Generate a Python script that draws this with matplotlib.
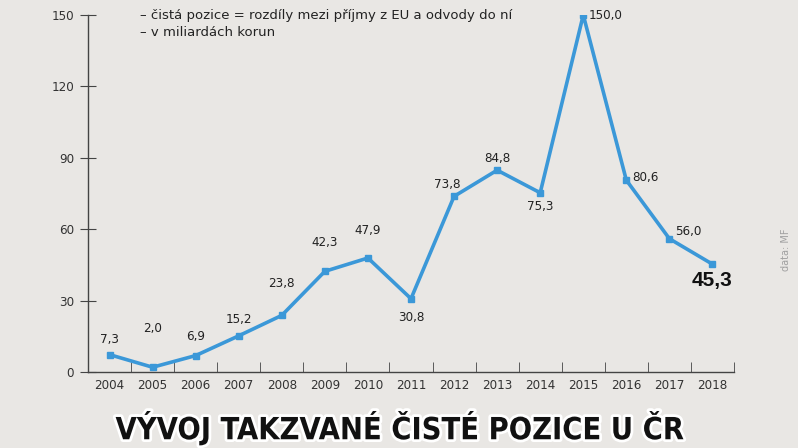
import matplotlib.pyplot as plt
import matplotlib.patheffects as pe
import numpy as np

years = ['2004', '2005', '2006', '2007', '2008', '2009', '2010', '2011',
         '2012', '2013', '2014', '2015', '2016', '2017', '2018']
values = [7.3, 2.0, 6.9, 15.2, 23.8, 42.3, 47.9, 30.8,
          73.8, 84.8, 75.3, 150.0, 80.6, 56.0, 45.3]
labels = ['7,3', '2,0', '6,9', '15,2', '23,8', '42,3', '47,9', '30,8',
          '73,8', '84,8', '75,3', '150,0', '80,6', '56,0', '45,3']
yticks = [0, 30, 60, 90, 120, 150]

# label offsets in points (dx, dy, ha, va)
offsets = [(0, 6, 'center', 'bottom'), (0, 23, 'center', 'bottom'),
           (0, 9, 'center', 'bottom'), (0, 7, 'center', 'bottom'),
           (0, 18, 'center', 'bottom'), (0, 16, 'center', 'bottom'),
           (0, 15, 'center', 'bottom'), (0, -9, 'center', 'top'),
           (-5, 4, 'center', 'bottom'), (0, 4, 'center', 'bottom'),
           (0, -5, 'center', 'top'), (4, 0, 'left', 'center'),
           (4, 2, 'left', 'center'), (4, 5, 'left', 'center'),
           (0, -5, 'center', 'top')]

cond = 'DejaVu Sans'
bg = '#e9e7e4'
blue = '#3b98d8'

fig = plt.figure(figsize=(7.98, 4.48), dpi=100, facecolor=bg)
ax = fig.add_axes([88 / 798, 1 - 372 / 448, (734 - 88) / 798, (372 - 15) / 448])
ax.set_facecolor('none')

x = np.arange(len(years))
ax.plot(x, values, color=blue, lw=2.6, marker='s', ms=4, solid_joinstyle='miter')

for i, (v, t) in enumerate(zip(values, labels)):
    dx, dy, ha, va = offsets[i]
    if i == len(values) - 1:
        ax.annotate(t, (i, v), xytext=(dx, dy), textcoords='offset points',
                    ha=ha, va=va, fontsize=15, fontweight='bold',
                    family='Liberation Sans', color='#111111')
    else:
        ax.annotate(t, (i, v), xytext=(dx, dy), textcoords='offset points',
                    ha=ha, va=va, fontsize=9.5, family=cond,
                    fontstretch='condensed', color='#222222')

ax.set_xlim(-0.5, 14.5)
ax.set_ylim(0, 150)
ax.set_yticks(yticks)
ax.set_yticklabels([str(t) for t in yticks], fontsize=9.5, family=cond,
                   fontstretch='condensed', color='#333333')
ax.set_xticks(x)
ax.set_xticklabels(years, fontsize=9.5, family=cond, fontstretch='condensed',
                   color='#333333')
ax.set_xticks(np.arange(0.5, 15, 1), minor=True)
ax.tick_params(axis='x', which='major', length=0, pad=5)
ax.tick_params(axis='x', which='minor', direction='in', length=7, color='#444444')
ax.tick_params(axis='y', direction='inout', length=12, color='#444444', pad=4)
for s in ['top', 'right']:
    ax.spines[s].set_visible(False)
for s in ['left', 'bottom']:
    ax.spines[s].set_color('#444444')
    ax.spines[s].set_linewidth(1)

fig.text(140 / 798, 1 - 15 / 448, '– čistá pozice = rozdíly mezi příjmy z EU a odvody do ní',
         fontsize=9.5, family='DejaVu Sans', color='#222222', va='center')
fig.text(140 / 798, 1 - 32 / 448, '– v miliardách korun',
         fontsize=9.5, family='DejaVu Sans', color='#222222', va='center')

fig.text(786 / 798, 1 - 250 / 448, 'data: MF', rotation=90, fontsize=7,
         color='#a0a0a0', ha='center', va='center')

fig.text(0.5, 1 - 428 / 448, 'VÝVOJ TAKZVANÉ ČISTÉ POZICE U ČR', fontsize=22,
         fontweight='bold', family=cond, fontstretch='condensed', color='#111111',
         ha='center', va='center',
         path_effects=[pe.withStroke(linewidth=4, foreground='white')])

fig.savefig('out.png', dpi=100, facecolor=bg)
